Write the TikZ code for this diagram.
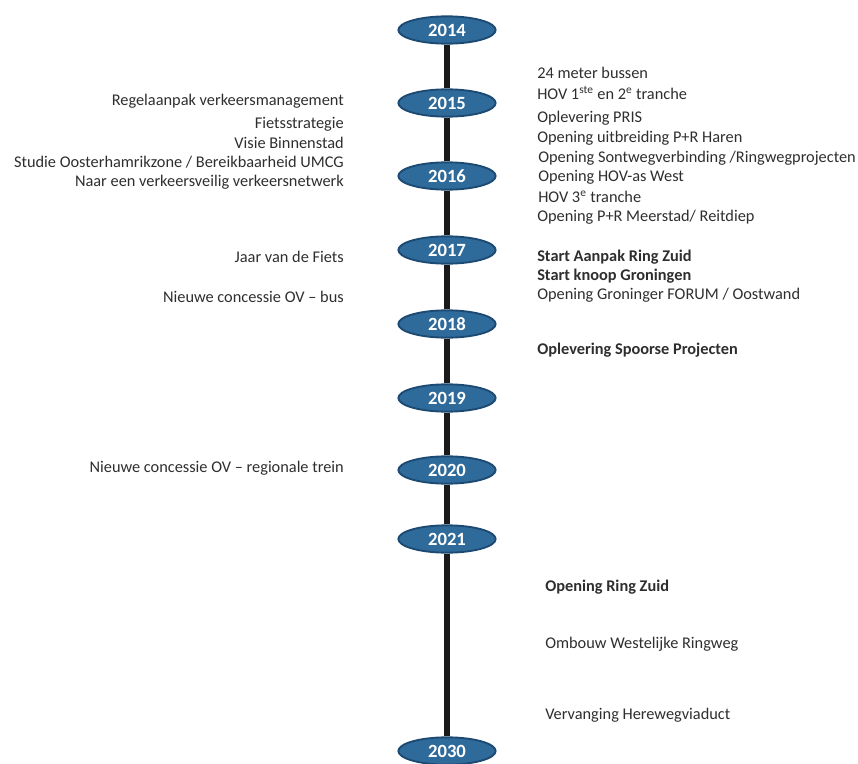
\documentclass[tikz,border=0pt]{standalone}
\usepackage{fontspec}
\setmainfont{Carlito}
\usetikzlibrary{shapes.geometric}
\definecolor{yrfill}{HTML}{2E6A9A}
\definecolor{yrdraw}{HTML}{1D4A72}
\definecolor{txt}{HTML}{2E2E2E}
\definecolor{axis}{HTML}{1A1A1A}
\tikzset{
  year/.style={ellipse, fill=yrfill, draw=yrdraw, line width=1.4pt, minimum width=73pt, minimum height=20.5pt, inner sep=0pt, text=white, font=\fontsize{14}{16}\selectfont\bfseries},
  rt/.style={anchor=west, text=txt, inner sep=0pt, font=\fontsize{12.25}{14}\selectfont},
  rtb/.style={rt, font=\fontsize{12.25}{14}\selectfont\bfseries},
  lt/.style={anchor=east, text=txt, inner sep=0pt, font=\fontsize{12.25}{14}\selectfont},
  axisline/.style={draw=axis, line width=4pt},
}
\begin{document}
\begin{tikzpicture}[x=0.75pt,y=-0.75pt]
\useasboundingbox (0,0) rectangle (858,764);
\clip (0,0) rectangle (858,764);
% years
\node[year] (y2014) at (447,30) {2014};
\node[year] (y2015) at (447,103) {2015};
\node[year] (y2016) at (447,176) {2016};
\node[year] (y2017) at (447,250) {2017};
\node[year] (y2018) at (447,324) {2018};
\node[year] (y2019) at (447,398) {2019};
\node[year] (y2020) at (447,470) {2020};
\node[year] (y2021) at (447,539) {2021};
\node[year] (y2030) at (447,751) {2030};
% axis segments
\draw[axisline] (y2014) -- (y2015);
\draw[axisline] (y2015) -- (y2016);
\draw[axisline] (y2016) -- (y2017);
\draw[axisline] (y2017) -- (y2018);
\draw[axisline] (y2018) -- (y2019);
\draw[axisline] (y2019) -- (y2020);
\draw[axisline] (y2020) -- (y2021);
\draw[axisline] (y2021) -- (y2030);
% right texts
\node[rt] (r1) at (537,73) {24 meter bussen};
\node[rt] (r2) at (537,93) {HOV 1\textsuperscript{ste} en 2\textsuperscript{e} tranche};
\node[rt] (r3) at (537,118) {Oplevering PRIS};
\node[rt] (r4) at (537,138) {Opening uitbreiding P+R Haren};
\node[rt] (r5) at (538,158) {Opening Sontwegverbinding /Ringwegprojecten};
\node[rt] (r6) at (538,177) {Opening HOV-as West};
\node[rt] (r7) at (538,197) {HOV 3\textsuperscript{e} tranche};
\node[rt] (r8) at (537,217) {Opening P+R Meerstad/ Reitdiep};
\node[rtb] (r9) at (537,257) {Start Aanpak Ring Zuid};
\node[rtb] (r10) at (537,276) {Start knoop Groningen};
\node[rt] (r11) at (537,295) {Opening Groninger FORUM / Oostwand};
\node[rtb] (r12) at (537,350) {Oplevering Spoorse Projecten};
\node[rtb] (r13) at (545,587) {Opening Ring Zuid};
\node[rt] (r14) at (545,644) {Ombouw Westelijke Ringweg};
\node[rt] (r15) at (545,715) {Vervanging Herewegviaduct};
% left texts
\node[lt] (l1) at (344,101) {Regelaanpak verkeersmanagement};
\node[lt] (l2) at (344,124) {Fietsstrategie};
\node[lt] (l3) at (344,143) {Visie Binnenstad};
\node[lt] (l4) at (344,162) {Studie Oosterhamrikzone / Bereikbaarheid UMCG};
\node[lt] (l5) at (344,182) {Naar een verkeersveilig verkeersnetwerk};
\node[lt] (l6) at (344,257) {Jaar van de Fiets};
\node[lt] (l7) at (344,297) {Nieuwe concessie OV -- bus};
\node[lt] (l8) at (344,468) {Nieuwe concessie OV -- regionale trein};
\end{tikzpicture}
\end{document}
